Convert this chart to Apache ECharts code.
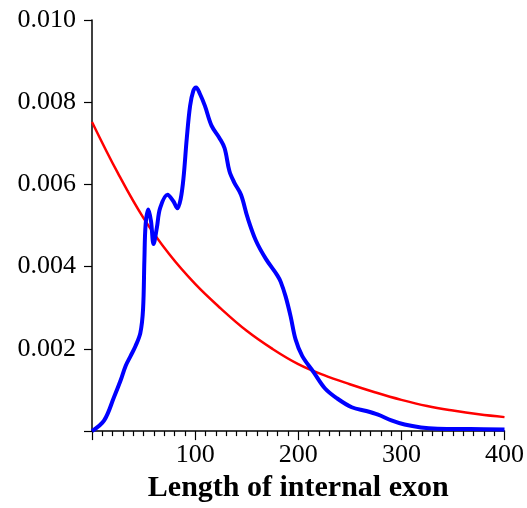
<!DOCTYPE html>
<html>
<head>
<meta charset="utf-8">
<script src="https://cdn.jsdelivr.net/npm/echarts@6/dist/echarts.min.js"></script>
<style>
  html, body { margin: 0; padding: 0; background: #fff; }
  #chart { width: 527px; height: 508px; }
</style>
</head>
<body>
<div id="chart"></div>
<script>
// Observed density of internal exon lengths (blue)
const observedLength = [0, 11.8, 21.4, 27.7, 32.7, 37.5, 42.2, 46.9, 49.5, 50.8, 52, 54.6, 57.2, 59.7, 62.9, 66.1,
  73.2, 78.9, 82.8, 86, 88.7, 91.9, 95.1, 98.3, 100.9, 104.7, 109.5, 115.9, 123.8, 128.6, 133.3, 138.1, 144.5,
  150.9, 159, 168.6, 179.7, 183, 187.8, 192.6, 197.4, 203.8, 215, 226.2, 237.4, 251.9, 266, 277.4, 290.3,
  303.1, 319, 335, 367, 400];
const observedDensity = [0, 0.00026, 0.00083, 0.00123, 0.00159, 0.00183, 0.00207, 0.00239, 0.00296, 0.00416,
  0.00503, 0.00539, 0.00511, 0.00455, 0.00495, 0.00543, 0.00575, 0.00559, 0.00542, 0.00565, 0.00615, 0.00712,
  0.00791, 0.00828, 0.00836, 0.00820, 0.00791, 0.00743, 0.00712, 0.00688, 0.00632, 0.00604, 0.00575, 0.00519,
  0.00463, 0.00419, 0.00379, 0.00363, 0.00327, 0.00279, 0.00223, 0.00183, 0.00143, 0.00103, 0.00080, 0.00058,
  0.00049, 0.00040, 0.00026, 0.00016, 0.00009, 0.00006, 0.00005, 0.00004];

// Reference density (red)
const referenceLength = [0, 25, 50, 75, 100, 125, 150, 175, 200, 225, 250, 275, 300, 325, 350, 375, 400];
const referenceDensity = [0.00752, 0.00628, 0.00518, 0.00430, 0.00358, 0.00298, 0.00244, 0.00200, 0.00163,
  0.00136, 0.00114, 0.00094, 0.00076, 0.00061, 0.00050, 0.00041, 0.00034];

const xTicks = [100, 200, 300, 400];
const yTicks = [0.002, 0.004, 0.006, 0.008, 0.010];
const xTitle = 'Length of internal exon';

const zip = (xs, ys) => xs.map((x, i) => [x, ys[i]]);
const serif = '"Liberation Serif", "DejaVu Serif", serif';

const chart = echarts.init(document.getElementById('chart'), null, { renderer: 'canvas' });
chart.setOption({
  animation: false,
  backgroundColor: '#ffffff',
  grid: { left: 92, right: 20, top: 20, bottom: 72, containLabel: false },
  xAxis: {
    type: 'value',
    min: 0,
    max: 400,
    interval: 100,
    name: xTitle,
    nameLocation: 'middle',
    nameGap: 40,
    nameTextStyle: { fontFamily: serif, fontWeight: 'bold', fontSize: 30, color: '#000' },
    axisLine: { show: true, lineStyle: { color: '#000', width: 1.5 } },
    axisTick: { show: true, inside: false, length: 9, lineStyle: { color: '#000', width: 1.2 } },
    minorTick: { show: true, splitNumber: 10, length: 5, lineStyle: { color: '#000', width: 1.2 } },
    splitLine: { show: false },
    minorSplitLine: { show: false },
    axisLabel: {
      margin: 11,
      fontFamily: serif,
      fontSize: 26,
      color: '#000',
      formatter: v => (xTicks.includes(v) ? String(v) : '')
    }
  },
  yAxis: {
    type: 'value',
    min: 0,
    max: 0.010,
    interval: 0.002,
    axisLine: { show: true, lineStyle: { color: '#000', width: 1.5 } },
    axisTick: { show: true, inside: false, length: 8, lineStyle: { color: '#000', width: 1.2 } },
    splitLine: { show: false },
    axisLabel: {
      margin: 16,
      fontFamily: serif,
      fontSize: 26,
      color: '#000',
      formatter: v => {
        const hit = yTicks.find(t => Math.abs(t - v) < 1e-9);
        return hit === undefined ? '' : hit.toFixed(3);
      }
    }
  },
  series: [
    {
      type: 'line',
      data: zip(referenceLength, referenceDensity),
      smooth: 0.4,
      showSymbol: false,
      clip: true,
      lineStyle: { color: '#ff0000', width: 2.5 },
      z: 2
    },
    {
      type: 'line',
      data: zip(observedLength, observedDensity),
      smooth: 0.35,
      showSymbol: false,
      clip: true,
      lineStyle: { color: '#0000ff', width: 4 },
      z: 3
    }
  ]
});
</script>
</body>
</html>
